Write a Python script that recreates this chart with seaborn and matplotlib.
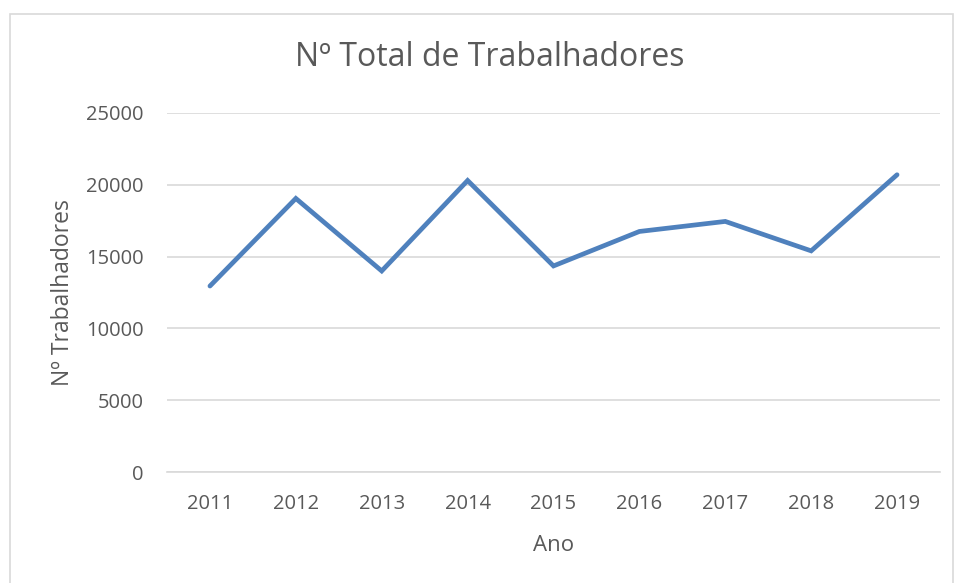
#!/usr/bin/env python3
"""Line chart: total number of workers per year."""

import pandas as pd
import matplotlib.pyplot as plt
import seaborn as sns
from matplotlib.patches import Rectangle

anos = ['2011', '2012', '2013', '2014', '2015', '2016', '2017', '2018', '2019']
trabalhadores = [12950, 19050, 14000, 20300, 14350, 16750, 17450, 15400, 20700]

df = pd.DataFrame({'Ano': anos, 'Trabalhadores': trabalhadores})

sns.set_theme(style='white')
plt.rcParams['font.family'] = ['Open Sans', 'DejaVu Sans']

text_color = '#595959'
grid_color = '#d9d9d9'

fig = plt.figure(figsize=(9.55, 5.83), dpi=100)
ax = fig.add_axes([167 / 955, 1 - 472 / 583, 773 / 955, 359 / 583])

sns.lineplot(data=df, x='Ano', y='Trabalhadores', ax=ax, color='#4f81bd',
             linewidth=3.4, solid_capstyle='round', solid_joinstyle='miter')

ax.set_xlim(-0.5, len(anos) - 0.5)
ax.set_ylim(0, 25000)
ax.set_yticks(range(0, 25001, 5000))
ax.yaxis.grid(True, color=grid_color, linewidth=1.2)
ax.set_axisbelow(True)
for side in ['top', 'right', 'left']:
    ax.spines[side].set_visible(False)
ax.spines['bottom'].set_color(grid_color)
ax.spines['bottom'].set_linewidth(1.2)
ax.tick_params(axis='both', length=0, labelsize=14.5, colors=text_color)
ax.tick_params(axis='x', pad=16)
ax.tick_params(axis='y', pad=17)

ax.set_xlabel('Ano', fontsize=16, color=text_color, labelpad=15)
ax.set_ylabel('Nº Trabalhadores', fontsize=16.5, color=text_color, labelpad=8)
fig.text(490 / 955, 1 - 58 / 583, 'Nº Total de Trabalhadores', ha='center', va='center',
         fontsize=23, color=text_color)

# chart frame
fig.patches.append(Rectangle((10 / 955, -0.05), 943 / 955, 1 - 14 / 583 + 0.05,
                             transform=fig.transFigure, fill=False,
                             edgecolor=grid_color, linewidth=1.2))

fig.savefig('out.png', dpi=100)
plt.close(fig)
